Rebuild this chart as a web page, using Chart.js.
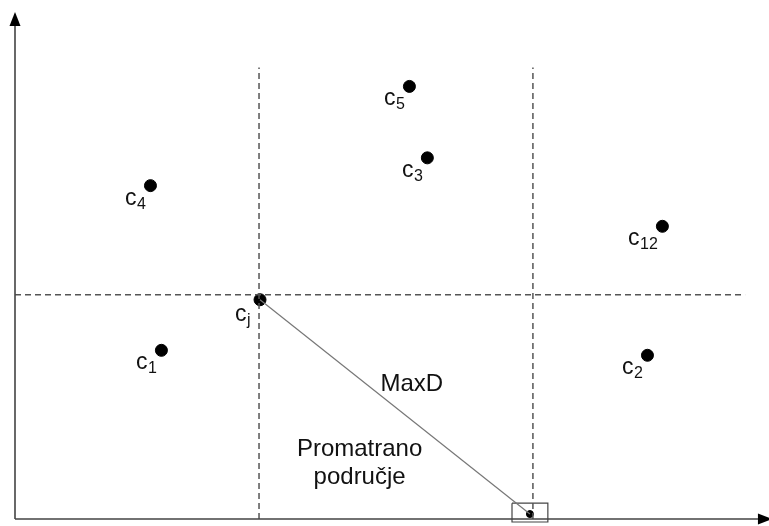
<!DOCTYPE html>
<html>
<head>
<meta charset="utf-8">
<script src="https://cdn.jsdelivr.net/npm/chart.js@4"></script>
<style>
  html, body { margin: 0; padding: 0; background: #fff; }
  canvas { display: block; }
</style>
</head>
<body>
<canvas id="myChart" width="769" height="526"></canvas>
<script>
// Points (units, origin at the axes corner)
const pointSubs = ['1', '2', '3', '4', '5', '12', 'j'];
const pointX = [147, 635, 414, 136, 396, 650, 246];
const pointY = [170, 165, 364, 336, 436, 295, 221];

// Observed point at the bottom and the line from cj to it
const targetX = [517];
const targetY = [5];
const maxdX = [246, 517];
const maxdY = [221, 5];

// Dashed partition lines
const vLine1X = [245, 245];
const vLine2X = [520, 520];
const vLineY = [0, 455];
const hLineX = [0, 733];
const hLineY = [226, 226];

// Small box around the observed point
const boxX = [499, 535, 535, 499, 499];
const boxY = [16, 16, -3, -3, 16];

// Free text
const noteTexts = ['MaxD', 'Promatrano', 'područje'];
const noteX = [367, 346, 346];
const noteY = [129, 63, 35];

const toXY = (xs, ys) => xs.map((x, i) => ({ x: x, y: ys[i] }));

const lineSet = (data, color, dash, width) => ({
    type: 'line',
    data: data,
    borderColor: color,
    borderWidth: width,
    borderDash: dash,
    pointRadius: 0,
    fill: false,
    clip: false
});

// axes with arrow heads + point labels
const diagramPlugin = {
    id: 'diagram',
    afterDatasetsDraw(chart) {
        const ctx = chart.ctx;
        const xs = chart.scales.x, ys = chart.scales.y;
        const x0 = xs.getPixelForValue(0), y0 = ys.getPixelForValue(0);
        const yTop = ys.getPixelForValue(511);
        const xEnd = xs.getPixelForValue(760);
        ctx.save();
        ctx.strokeStyle = '#444';
        ctx.lineWidth = 1.6;
        ctx.beginPath();
        ctx.moveTo(x0, y0); ctx.lineTo(x0, yTop + 10);
        ctx.moveTo(x0, y0); ctx.lineTo(xEnd - 10, y0);
        ctx.stroke();
        ctx.fillStyle = '#000';
        ctx.beginPath();
        ctx.moveTo(x0, yTop);
        ctx.lineTo(x0 - 5.5, yTop + 14);
        ctx.lineTo(x0 + 5.5, yTop + 14);
        ctx.closePath();
        ctx.fill();
        ctx.beginPath();
        ctx.moveTo(xEnd, y0);
        ctx.lineTo(xEnd - 14, y0 - 5.5);
        ctx.lineTo(xEnd - 14, y0 + 5.5);
        ctx.closePath();
        ctx.fill();

        ctx.fillStyle = '#111';
        ctx.textBaseline = 'alphabetic';
        ctx.textAlign = 'left';
        pointSubs.forEach((s, i) => {
            const px = xs.getPixelForValue(pointX[i]);
            const py = ys.getPixelForValue(pointY[i]);
            // cj sits on the dashed cross, its label is pushed a bit further away
            const gap = s === 'j' ? 10 : 5;
            const drop = s === 'j' ? 21 : 19;
            ctx.font = '23px "Liberation Sans", Arial, sans-serif';
            const cw = ctx.measureText('c').width;
            ctx.font = '16px "Liberation Sans", Arial, sans-serif';
            const sw = ctx.measureText(s).width;
            const left = px - gap - cw - sw;
            ctx.font = '23px "Liberation Sans", Arial, sans-serif';
            ctx.fillText('c', left, py + drop);
            ctx.font = '16px "Liberation Sans", Arial, sans-serif';
            ctx.fillText(s, left + cw + 0.5, py + drop + 4);
        });

        ctx.font = '24px "Liberation Sans", Arial, sans-serif';
        noteTexts.forEach((t, i) => {
            ctx.textAlign = i === 0 ? 'left' : 'center';
            ctx.fillText(t, xs.getPixelForValue(noteX[i]), ys.getPixelForValue(noteY[i]));
        });
        ctx.restore();
    }
};

const ctx = document.getElementById('myChart').getContext('2d');
new Chart(ctx, {
    type: 'scatter',
    data: {
        datasets: [
            lineSet(toXY(vLine1X, vLineY), '#555', [6, 4], 1.5),
            lineSet(toXY(vLine2X, vLineY), '#555', [6, 4], 1.5),
            lineSet(toXY(hLineX, hLineY), '#555', [6, 4], 1.5),
            lineSet(toXY(maxdX, maxdY), '#777', [], 1.2),
            lineSet(toXY(boxX, boxY), '#444', [], 1.2),
            {
                data: toXY(pointX, pointY),
                backgroundColor: '#000',
                borderColor: '#000',
                pointRadius: 6,
                pointHoverRadius: 6
            },
            {
                data: toXY(targetX, targetY),
                backgroundColor: '#000',
                borderColor: '#000',
                pointRadius: 3.5,
                clip: false
            }
        ]
    },
    options: {
        responsive: false,
        animation: false,
        events: [],
        layout: { padding: { left: 15, right: 4, top: 12, bottom: 3 } },
        plugins: { legend: { display: false }, tooltip: { enabled: false } },
        scales: {
            x: { type: 'linear', min: 0, max: 750, display: false },
            y: { type: 'linear', min: 0, max: 511, display: false }
        }
    },
    plugins: [diagramPlugin]
});
</script>
</body>
</html>
